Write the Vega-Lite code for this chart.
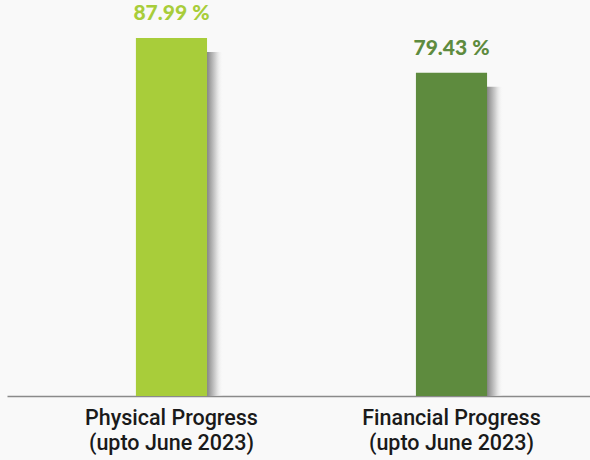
{
  "$schema": "https://vega.github.io/schema/vega-lite/v6.json",
  "autosize": "none",
  "width": 583,
  "height": 396,
  "padding": {"left": 7, "top": 0, "right": 0, "bottom": 64},
  "background": "#f9f9f9",
  "config": {"view": {"stroke": null}},
  "data": {"values": [
    {"category": "Physical Progress|(upto June 2023)", "value": 87.99, "label": "87.99 %", "color": "#a8cd3a"},
    {"category": "Financial Progress|(upto June 2023)", "value": 79.43, "label": "79.43 %", "color": "#5e8b3e"}
  ]},
  "encoding": {
    "x": {"field": "category", "type": "nominal", "sort": null,
      "scale": {"paddingInner": 0.746, "paddingOuter": 0.414, "align": 0.556},
      "axis": {"title": null, "labelAngle": 0, "ticks": false, "domainColor": "#8a8a8a", "domainWidth": 1.5,
        "labelExpr": "split(datum.label, '|')", "labelFont": "Roboto", "labelFontWeight": 500, "labelFontSize": 21.5,
        "labelColor": "#1a1a1a", "labelLineHeight": 25, "labelPadding": 11, "labelBaseline": "top"}},
    "y": {"field": "value", "type": "quantitative", "scale": {"domain": [0, 97.3]}, "axis": null}
  },
  "layer": [
    {"mark": {"type": "bar", "xOffset": 16, "yOffset": 14, "clip": true,
      "color": {"gradient": "linear", "x1": 0, "x2": 1, "y1": 0, "y2": 0,
        "stops": [{"offset": 0, "color": "#666666"}, {"offset": 0.78, "color": "#8a8a8a"}, {"offset": 0.9, "color": "#d5d5d5"}, {"offset": 1, "color": "rgba(249,249,249,0)"}]}}},
    {"mark": {"type": "bar"}, "encoding": {"color": {"field": "color", "type": "nominal", "scale": null}}},
    {"mark": {"type": "text", "baseline": "bottom", "dy": -14, "font": "Lato", "fontWeight": 900, "fontSize": 21},
      "encoding": {"text": {"field": "label"}, "color": {"field": "color", "type": "nominal", "scale": null}}}
  ]
}
